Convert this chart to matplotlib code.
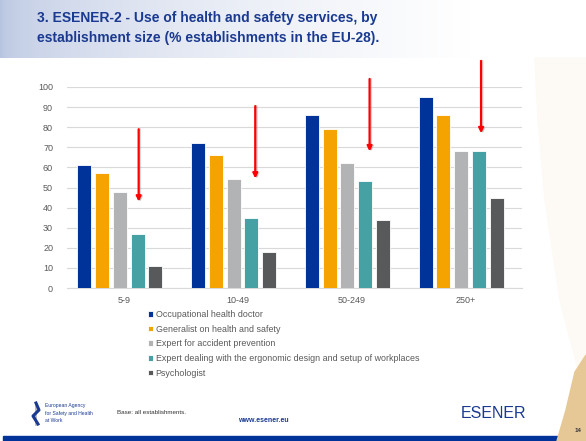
import numpy as np
import matplotlib.pyplot as plt
from matplotlib.patches import Rectangle, Polygon

plt.rcParams['font.family'] = ['Liberation Sans', 'DejaVu Sans']

# data
sizes = ["5-9", "10-49", "50-249", "250+"]
services = ["Occupational health doctor",
            "Generalist on health and safety",
            "Expert for accident prevention",
            "Expert dealing with the ergonomic design and setup of workplaces",
            "Psychologist"]
doctor = [61, 72, 86, 95]
generalist = [57, 66, 79, 86]
accident = [48, 54, 62, 68]
ergonomic = [27, 35, 53, 68]
psychologist = [11, 18, 34, 45]
# red arrows: start and end heights (in %), one per size class
arrow_top = [79, 90.5, 104, 113]
arrow_end = [43, 54.5, 68, 77]
arrow_x = [0.13, 0.155, 0.16, 0.14]

colors = ["#003399", "#f5a300", "#b2b3b5", "#45a1a3", "#58595b"]
grey_txt = "#595959"
navy = "#1a3a92"

W, H = 586, 441
fig = plt.figure(figsize=(W / 100, H / 100), dpi=100)

# slide background
bg = fig.add_axes([0, 0, 1, 1])
bg.axis("off")
grad = np.linspace(0, 1, 300)
fade = np.clip(grad * 1.25, 0, 1) ** 0.5
hdr = np.zeros((1, 300, 3))
start = np.array([0.72, 0.77, 0.88])
for i, f in enumerate(fade):
    hdr[0, i] = start * (1 - f) + np.array([1, 1, 1]) * f
bg.imshow(hdr, extent=[0, W, 58, 0], aspect="auto")
bg.add_patch(Polygon([[535, 58], [586, 58], [586, 400], [560, 300], [545, 200], [538, 120]],
                     closed=True, color="#fdfaf5", zorder=1))
bg.add_patch(Rectangle((3, 436), W, 5, color="#003399", zorder=2))
bg.add_patch(Polygon([[586, 355], [586, 441], [557, 441], [566, 410], [575, 372]],
                     closed=True, color="#e6c896", zorder=3))
bg.set_xlim(0, W)
bg.set_ylim(H, 0)

fig.text(37 / W, 1 - 18 / H, "3. ESENER-2 - Use of health and safety services, by",
         fontsize=10, fontweight="bold", color=navy, va="center")
fig.text(37 / W, 1 - 38 / H, "establishment size (% establishments in the EU-28).",
         fontsize=10, fontweight="bold", color=navy, va="center")

# footer
fig.text(117 / W, 1 - 413 / H, "Base: all establishments.", fontsize=4.5, color="#333333", va="center")
fig.text(263 / W, 1 - 420 / H, "www.esener.eu", fontsize=5, fontweight="bold",
         color=navy, va="center", ha="center")
fig.text(45 / W, 1 - 406 / H, "European Agency", fontsize=3.6, color=navy, va="center")
fig.text(45 / W, 1 - 413.5 / H, "for Safety and Health", fontsize=3.6, color=navy, va="center")
fig.text(45 / W, 1 - 421 / H, "at Work", fontsize=3.6, color=navy, va="center")
bg.plot([36, 39, 33, 38], [403, 410, 416, 424], color=navy, lw=2.2, zorder=3)
bg.plot([36, 36], [403, 425], color="#b0b0b0", lw=1.2, zorder=2)
fig.text(494 / W, 1 - 414 / H, "ESENER", fontsize=11.5, color=navy, va="center", ha="center")
fig.text(578 / W, 1 - 430 / H, "14", fontsize=4.5, fontweight="bold", color="#333333",
         va="center", ha="center", zorder=5)

# chart
ax = fig.add_axes([67 / W, 1 - 288 / H, 455 / W, 201 / H])
ax.set_facecolor("none")
series = [doctor, generalist, accident, ergonomic, psychologist]
x = np.arange(len(sizes))
step, width = 0.156, 0.123
for k, (vals, c, lab) in enumerate(zip(series, colors, services)):
    ax.bar(x + (k - 2) * step - 0.035, vals, width, color=c, label=lab,
           edgecolor="white", linewidth=0.6, zorder=3)

for xi, dx, y0, y1 in zip(x, arrow_x, arrow_top, arrow_end):
    for off, col, a in [(0.012, "#888888", 0.35), (0, "#ff0000", 1)]:
        ax.annotate("", xy=(xi + dx + off, y1 - off * 20), xytext=(xi + dx + off, y0),
                    arrowprops=dict(arrowstyle="-|>", color=col, lw=1.6, alpha=a,
                                    mutation_scale=7, shrinkA=0, shrinkB=0),
                    annotation_clip=False, zorder=5)

ax.set_xlim(-0.5, 3.5)
ax.set_ylim(0, 100)
ax.set_yticks(range(0, 101, 10))
ax.yaxis.grid(True, color="#d9d9d9", lw=0.8, zorder=0)
ax.set_xticks(x)
ax.set_xticklabels(sizes)
ax.tick_params(axis="both", length=0, labelsize=6.5, colors=grey_txt, pad=6)
ax.tick_params(axis="y", pad=10)
for s in ["left", "right", "top"]:
    ax.spines[s].set_visible(False)
ax.spines["bottom"].set_color("#d9d9d9")

fig.legend(loc="upper left", bbox_to_anchor=(148 / W, 1 - 310 / H), frameon=False,
           fontsize=6.4, labelcolor=grey_txt, handlelength=0.6, handleheight=0.6,
           handletextpad=0.25, labelspacing=0.64, borderaxespad=0, borderpad=0)

fig.savefig("out.png", dpi=100)
